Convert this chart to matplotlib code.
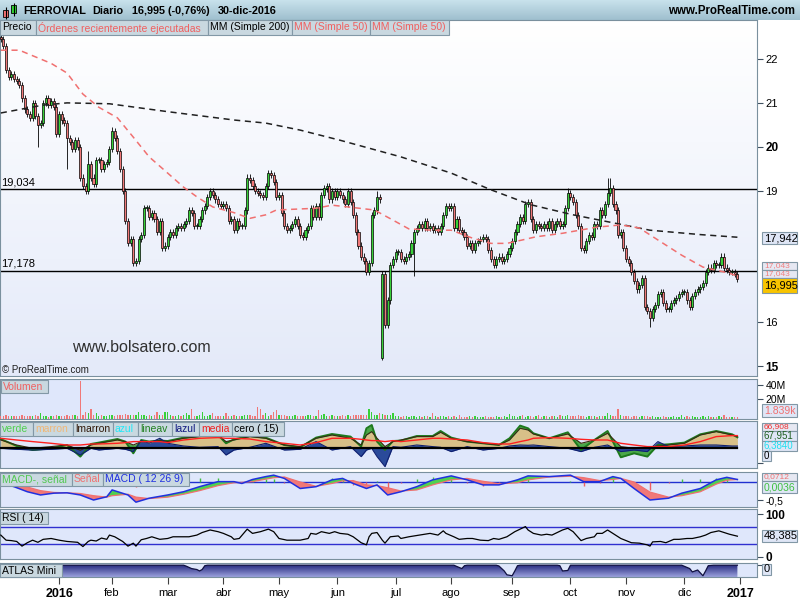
import numpy as np
import matplotlib.pyplot as plt
from matplotlib.patches import Rectangle
from matplotlib.colors import LinearSegmentedColormap

plt.rcParams['font.family'] = ['Liberation Sans', 'DejaVu Sans']

W, H = 800, 600
DIA0 = -22          # primer dia visible (dic-2015), 0 = 4-ene-2016

# --- cierres diarios ---
c_dic15 = [22.45, 22.3, 21.75, 21.6, 21.65, 21.55, 21.5, 21.4, 21.1, 20.85, 20.75,
           20.65, 21.0, 20.7, 20.5, 20.55, 21.0, 21.1, 20.95, 21.05, 20.9, 20.3]
c_ene = [20.75, 20.6, 20.55, 20.2, 20.1, 19.95, 20.15, 20.0, 19.3, 19.1, 19.0, 19.6,
         19.3, 19.15, 19.7, 19.7, 19.5, 19.6, 19.65, 19.95]
c_feb = [20.35, 20.2, 19.9, 19.5, 19.0, 18.3, 17.8, 17.9, 17.35, 17.4, 17.9, 18.0,
         18.6, 18.6, 18.4, 18.5, 18.35, 18.05, 18.3, 17.7, 17.75]
c_mar = [17.95, 18.05, 18.0, 18.15, 18.2, 18.15, 18.25, 18.3, 18.55, 18.5, 18.2, 18.2,
         18.35, 18.55, 18.65, 18.85, 19.0, 18.9, 18.8, 18.7, 18.65]
c_abr = [18.7, 18.6, 18.3, 18.35, 18.1, 18.3, 18.2, 18.2, 18.55, 19.3, 19.25, 19.1,
         19.0, 18.95, 18.9, 18.85, 19.1, 19.4, 19.35, 19.2, 18.85]
c_may = [18.9, 18.5, 18.2, 18.1, 18.15, 18.25, 18.35, 18.2, 18.0, 17.95, 18.1, 18.2,
         18.6, 18.4, 18.65, 18.4, 18.9, 19.05, 19.1, 18.8, 19.0, 18.85]
c_jun = [19.0, 18.9, 18.8, 18.7, 19.0, 18.75, 18.45, 18.05, 17.75, 17.5, 17.4, 17.15,
         17.35, 18.45, 18.55, 18.85, 18.8, 17.1, 15.95, 16.5, 17.3, 17.45]
c_jul = [17.6, 17.6, 17.45, 17.4, 17.5, 17.55, 17.8, 18.05, 18.15, 18.25, 18.15, 18.3,
         18.15, 18.2, 18.1, 18.15, 18.05, 18.2, 18.45, 18.65, 18.6]
c_ago = [18.65, 18.15, 18.35, 18.1, 18.05, 17.95, 17.75, 17.8, 17.65, 17.8, 17.85, 17.9,
         17.95, 17.9, 17.65, 17.45, 17.3, 17.45, 17.5, 17.4, 17.45, 17.55, 17.7]
c_sep = [17.85, 18.05, 18.25, 18.4, 18.3, 18.7, 18.75, 18.35, 18.1, 18.25, 18.2, 18.15,
         18.25, 18.15, 18.3, 18.1, 18.25, 18.3, 18.2, 18.25, 18.6, 18.95]
c_oct = [18.85, 18.75, 18.45, 18.2, 17.7, 17.65, 17.85, 18.0, 17.95, 18.25, 18.2, 18.55,
         18.45, 18.7, 18.95, 19.05, 18.7, 18.55, 18.0, 18.05, 17.7]
c_nov = [17.45, 17.35, 17.15, 16.95, 16.75, 16.85, 17.0, 16.35, 16.25, 16.1, 16.3, 16.4,
         16.65, 16.7, 16.45, 16.3, 16.3, 16.45, 16.5, 16.55, 16.65, 16.7]
c_dic = [16.7, 16.5, 16.35, 16.6, 16.7, 16.75, 16.8, 16.9, 17.15, 17.25, 17.2, 17.35,
         17.3, 17.3, 17.5, 17.25, 17.2, 17.15, 17.15, 17.1, 16.995]

apertura_gap = {122: 15.2}
maximos = {11: 19.9, 20: 20.45, 120: 19.0, 192: 19.06, 207: 19.3, 208: 19.3}
minimos = {-8: 20.0, 3: 19.5, 122: 15.15, 134: 17.05, 223: 15.9}

# --- volumen (millones) ---
v_dic15 = [4, 4.5, 5, 4, 3.5, 4, 3.5, 4, 5, 4.5, 4, 3.5, 4, 5, 4, 8, 3.5, 4, 3, 3.5, 4, 6]
v_ene = [4, 4.5, 4, 5, 4.5, 6, 5, 4.5, 52, 6, 10, 8, 14, 5, 8, 4.5, 5, 4, 4.5, 5]
v_feb = [5, 4.5, 5, 6, 5.5, 7, 6, 5, 6, 5, 10, 5, 6, 4.5, 5, 4, 5, 10, 5, 6, 10]
v_mar = [9, 5, 4, 4.5, 5, 4, 5, 8, 5, 14, 4.5, 4, 5, 10, 4.5, 4, 5, 8, 4, 3.5, 4]
v_abr = [4, 8, 4.5, 4, 5, 4, 4.5, 4, 5, 6, 5, 4.5, 4, 17, 14, 5, 8, 4.5, 5, 10, 12]
v_may = [5, 6, 5, 4.5, 4, 4.5, 5, 4, 4.5, 4, 4.5, 5, 6, 4.5, 4, 13, 5, 7, 4.5, 4, 5, 4.5]
v_jun = [4.5, 4, 5, 4.5, 5, 4, 5, 6, 5.5, 5, 5, 6, 14, 10, 5, 5, 8, 7, 6, 5, 5, 8]
v_jul = [4, 3.5, 3, 3.5, 4, 3, 3.5, 4, 3, 3.5, 3, 4, 3.5, 3, 8, 3.5, 3, 4, 3.5, 3, 4]
v_ago = [3, 3.5, 3, 6, 3, 2.5, 3, 3.5, 3, 4, 3, 2.5, 3, 3.5, 3, 2.5, 3, 3.5, 3, 3, 4, 3, 7]
v_sep = [3.5, 4, 3, 3.5, 5, 3, 3.5, 4, 3, 3.5, 6, 3, 3.5, 4, 3, 3.5, 4, 3, 5, 3.5, 4, 5]
v_oct = [4, 3.5, 4, 5, 4.5, 3.5, 3, 3.5, 4, 3.5, 3, 4, 3.5, 4, 8, 5, 4.5, 4, 14, 5, 4]
v_nov = [4, 3.5, 3, 4, 3.5, 3, 4, 4.5, 3.5, 3, 3.5, 3, 2.5, 3, 3.5, 3, 2.5, 3, 3.5, 3, 3, 6]
v_dic = [3, 3.5, 3, 4, 3, 2.5, 3, 3.5, 3, 4, 3, 2.5, 3, 3.5, 3, 6, 3, 2.5, 3, 3, 2.5]

# --- medias moviles ---
mm200_dia = [-22, -6, 3, 19, 41, 66, 78, 91, 106, 129, 148, 163, 178, 194, 204, 223, 242, 256]
mm200 = [20.77, 20.95, 21.0, 20.98, 20.8, 20.61, 20.54, 20.38, 20.15, 19.77, 19.4, 19.02,
         18.68, 18.45, 18.33, 18.1, 18.0, 17.94]
mm50_dia = [-22, -15, -3, 3, 9, 15, 22, 28, 34, 41, 47, 52, 58, 66, 72, 78, 82, 97, 103, 109,
            119, 126, 132, 141, 148, 156, 163, 169, 175, 180, 190, 203, 212, 219, 228, 235,
            243, 253, 256]
mm50 = [22.2, 22.2, 21.9, 21.68, 21.2, 20.9, 20.66, 20.22, 19.77, 19.4, 19.08, 18.86, 18.63,
        18.5, 18.37, 18.45, 18.56, 18.6, 18.67, 18.63, 18.56, 18.33, 18.13, 18.1, 18.1, 17.92,
        17.8, 17.8, 17.88, 17.95, 18.03, 18.17, 18.22, 18.15, 17.8, 17.53, 17.26, 17.12, 17.05]

# --- indicador verde/marron/lazul/media ---
ind_dia = [-22, -16, -10, -3, 3, 8, 12, 15, 22, 25, 28, 31, 34, 38, 41, 47, 53, 60, 63, 66,
           72, 78, 85, 91, 97, 103, 110, 114, 116, 118, 120, 123, 126, 129, 135, 141, 144,
           148, 154, 160, 166, 170, 174, 177, 179, 185, 192, 197, 202, 207, 212, 217, 222,
           226, 230, 236, 242, 248, 254, 256]
marron = [8.3, 3.3, 0, 1.7, 3.3, -2, 3.3, 5, 8.3, 6.7, 3.3, 6.7, 6.7, 7.7, 6.7, 10, 11.7,
          13.3, 6.7, 8.3, 11.7, 10, 3.3, 1.7, 10, 13.3, 10, 3.3, 13.3, 16.7, 10, 1.7, 6.7,
          8.3, 11.7, 11.7, 16, 10, 6.7, 5, 3.3, 8.3, 20, 18.3, 14.3, 10, 14.3, 5, 8.3, 15,
          1.7, 0, 1, 2.3, 3.3, 5, 13.3, 16.7, 13.3, 11.7]
verde = [9.3, 2.3, -1.7, 0, 3.3, -8.3, 4.3, 5.7, 9.3, 6.7, -5, 8.3, 6.7, 7.7, 7.3, 10.7,
         12.3, 13.3, 5, 9, 12.3, 10.7, 3.3, 1, 10.7, 14.3, 11.7, 1.7, 20, 23.3, 6.7, -1.7,
         7.3, 7.7, 12.3, 12.3, 17.3, 10.7, 6.7, 5, 3.3, 10, 22.7, 20, 15, 10, 16, -1.7, 8.3,
         17.3, -9, -5, -8.3, 3.3, 4, 5.7, 14, 17.3, 14, 11]
lazul = [0, -1, -1.7, -1, 0, -6.7, 0, -1.7, 0, -1, -3.3, 7.7, 5, 10, 5, 2.3, 1, 1.7, -6.7,
         -1.7, 1, 5, -1.7, -1, 6.7, -1.7, 1.7, -8.3, -1.7, 0, -8.3, -18.3, 1.7, 1, 3.3, 1.7,
         1, -3.3, 1.7, -1.7, 0, 2.3, 3.3, 3, 3.3, 1.7, 0, -3.3, 1, 3.3, -3.3, -1.7, -3.3,
         6.7, 1.7, 2.3, 3.3, 3.3, 2.3, 2.3]
media = [10, 8.3, 6.7, 5, 3.3, 3.3, 4.3, 4.3, 5, 5.7, 6.7, 6.7, 6.7, 6.7, 5.7, 8.3, 10, 10.7,
         10, 10, 9.3, 6.7, 5, 3.3, 5.7, 10, 10, 9, 8.3, 7.7, 7.7, 6.7, 7.7, 6.7, 8.3, 10, 10,
         9.3, 8.3, 5.7, 4.3, 4.3, 6.7, 8.3, 10, 10.7, 10, 9, 8.3, 8.3, 5, 3.3, 1.7, 1.7, 1.7,
         3.3, 6.7, 11.7, 12.7, 12.7]

# --- MACD ---
macd_dia = [-22, -17, -12, -7, -2, 3, 8, 13, 18, 20, 26, 29, 34, 41, 47, 53, 60, 66, 69, 73,
            78, 81, 85, 91, 97, 103, 107, 111, 116, 120, 124, 129, 135, 141, 148, 154, 160,
            166, 173, 177, 185, 193, 198, 204, 209, 212, 217, 223, 230, 235, 242, 248, 252, 256]
macd = [-0.02, -0.13, -0.27, -0.36, -0.31, -0.30, -0.36, -0.50, -0.41, -0.22,
        -0.36, -0.56, -0.45, -0.36, -0.27, -0.13, 0.01, 0.01, -0.04, 0.07,
        0.15, 0.19, 0.10, -0.18, -0.13, 0.06, 0.10, -0.04, -0.18, -0.08,
        -0.36, -0.27, -0.13, 0.06, 0.17, 0.06, -0.08, -0.08, 0.06, 0.17,
        0.15, 0.19, 0.01, 0.01, 0.15, 0.10, -0.18, -0.50, -0.45, -0.31,
        -0.18, 0.06, 0.13, 0.07]
senal = [0.02, -0.05, -0.14, -0.24, -0.29, -0.30, -0.32, -0.38, -0.42, -0.38,
         -0.34, -0.42, -0.46, -0.42, -0.34, -0.24, -0.10, -0.02, -0.01, 0.01,
         0.08, 0.12, 0.14, 0.0, -0.12, -0.04, 0.03, 0.04, -0.08, -0.10,
         -0.16, -0.25, -0.22, -0.08, 0.06, 0.10, 0.02, -0.05, -0.02, 0.06,
         0.14, 0.16, 0.12, 0.04, 0.07, 0.10, 0.0, -0.28, -0.42, -0.38,
         -0.27, -0.06, 0.05, 0.07]

# --- RSI (14) ---
rsi_dia = [-22, -20, -18, -16, -14, -12, -10, -8, -6, -3, 0, 3, 7, 9, 11, 12, 14, 16, 18, 19,
           21, 24, 26, 28, 29, 31, 33, 35, 38, 41, 43, 46, 49, 52, 54, 57, 60, 62, 65, 66,
           68, 71, 73, 76, 79, 81, 83, 86, 88, 91, 94, 95, 97, 99, 102, 104, 106, 109, 111,
           114, 116, 117, 118, 120, 122, 123, 125, 128, 129, 132, 136, 140, 143, 145, 146,
           149, 151, 154, 156, 159, 162, 164, 166, 169, 172, 174, 176, 177, 179, 182, 184,
           186, 188, 190, 192, 194, 197, 199, 202, 203, 205, 207, 209, 212, 214, 216, 219,
           222, 223, 224, 227, 229, 232, 234, 237, 239, 242, 244, 246, 249, 251, 253, 256]
rsi = [51, 39, 38, 36, 25, 33, 39, 34, 41, 43, 39, 36, 34, 24, 36, 39, 37, 44, 41, 51,
       47, 36, 25, 32, 25, 40, 43, 47, 41, 43, 47, 47, 47, 51, 57, 63, 59, 55, 47, 41,
       43, 65, 55, 59, 65, 59, 43, 39, 39, 39, 43, 55, 53, 59, 55, 59, 55, 53, 47, 33,
       28, 47, 55, 57, 39, 32, 47, 49, 43, 47, 51, 55, 51, 61, 55, 47, 41, 43, 43, 39,
       38, 43, 41, 47, 59, 65, 71, 63, 55, 51, 53, 51, 57, 63, 67, 59, 38, 43, 47, 55,
       55, 63, 55, 43, 38, 33, 32, 28, 25, 35, 36, 33, 41, 41, 43, 43, 47, 51, 57, 61,
       57, 53, 48.4]

# --- ATLAS Mini ---
atlas_dia = [-22, 47, 48, 50, 52, 53, 54, 55, 56, 149, 150, 152, 153, 154, 165, 166, 168,
             169, 171, 172, 173, 174, 188, 189, 190, 192, 193, 234, 235, 238, 239, 241, 243,
             244, 245, 247, 256]
atlas = [0, 0, -1, -3.5, -4.5, -6, -4.5, -0.5, 0, 0, -1.2, -3.5, -0.5, 0, 0, -0.8, -6, -10,
         -11, -6, -0.5, 0, 0, -0.5, -6, -5.5, 0, 0, 0, -3.5, -7, -5, -11, -6, -0.5, 0, 0]

inicio_mes = [0, 20, 41, 62, 83, 105, 127, 148, 171, 193, 214, 236, 257]
meses = ['2016', 'feb', 'mar', 'abr', 'may', 'jun', 'jul', 'ago', 'sep', 'oct', 'nov',
         'dic', '2017']

cierres = np.array(c_dic15 + c_ene + c_feb + c_mar + c_abr + c_may + c_jun + c_jul +
                   c_ago + c_sep + c_oct + c_nov + c_dic)
volumen = np.array(v_dic15 + v_ene + v_feb + v_mar + v_abr + v_may + v_jun + v_jul +
                   v_ago + v_sep + v_oct + v_nov + v_dic)
dias = np.arange(DIA0, DIA0 + len(cierres))

X0, X1 = -22.3, 263.4
VERDE_V, ROJO_V = '#38d038', '#f07878'
BORDE = '#7a909e'

fig = plt.figure(figsize=(8, 6), dpi=100)
fig.patch.set_facecolor('white')


def px_ax(x0, y0, x1, y1):
    return fig.add_axes([x0 / W, 1 - y1 / H, (x1 - x0) / W, (y1 - y0) / H])


def gradiente(ax, c_arriba, c_abajo):
    cmap = LinearSegmentedColormap.from_list('g', [c_abajo, c_arriba])
    ax.imshow(np.linspace(0, 1, 64).reshape(-1, 1), extent=[0, 1, 0, 1],
              transform=ax.transAxes, origin='lower', cmap=cmap, aspect='auto', zorder=0)


def caja(x0, y0, x1, y1, texto, color, fc='#c9d8e0', size=7.5, weight='normal', ha='left'):
    fig.patches.append(Rectangle((x0 / W, 1 - y1 / H), (x1 - x0) / W, (y1 - y0) / H,
                                 transform=fig.transFigure, facecolor=fc, edgecolor='#8298a6',
                                 lw=0.8, zorder=5))
    tx = (x0 + 2) / W if ha == 'left' else (x0 + x1) / 2 / W
    fig.text(tx, 1 - (y0 + y1) / 2 / H, texto, color=color, fontsize=size,
             fontweight=weight, ha=ha, va='center', zorder=6)


def panel(ax, ylim):
    ax.set_xlim(X0, X1)
    ax.set_ylim(*ylim)
    for s in ax.spines.values():
        s.set_color(BORDE)
    ax.yaxis.tick_right()
    ax.tick_params(axis='y', length=4, color='#405060', labelsize=7.5, pad=2)
    ax.tick_params(axis='x', bottom=False, labelbottom=False)


# ---------- barra de titulo ----------
axt = px_ax(0, 0, 800, 20)
gradiente(axt, '#c8e2ec', '#9fbfce')
axt.set_xlim(0, 800)
axt.set_ylim(20, 0)
axt.axis('off')
axt.vlines([5.5, 13.5], [7, 3], [19, 16], color='black', lw=0.8)
axt.add_patch(Rectangle((3, 10), 5, 7, facecolor='#f07070', edgecolor='black', lw=0.6))
axt.add_patch(Rectangle((11, 5), 5, 8, facecolor='#30d030', edgecolor='black', lw=0.6))
fig.text(23 / W, 1 - 11 / H, 'FERROVIAL', fontsize=7.8, fontweight='bold', va='center')
fig.text(92 / W, 1 - 11 / H, 'Diario', fontsize=7.8, fontweight='bold', va='center')
fig.text(132 / W, 1 - 11 / H, '16,995 (-0,76%)', fontsize=7.8, fontweight='bold', va='center')
fig.text(218 / W, 1 - 11 / H, '30-dic-2016', fontsize=7.8, fontweight='bold', va='center')
fig.text(795 / W, 1 - 11 / H, 'www.ProRealTime.com', fontsize=8.3, fontweight='bold',
         va='center', ha='right')

# ---------- precio ----------
ax = px_ax(0, 20, 757, 376)
gradiente(ax, '#ffffff', '#e4eaf9')
panel(ax, (14.779, 22.888))

o = np.r_[cierres[0] + 0.05, cierres[:-1]]
for d, v in apertura_gap.items():
    o[d - DIA0] = v
arriba = np.maximum(o, cierres)
abajo = np.minimum(o, cierres)
hi = arriba + 0.07
lo = abajo - 0.07
for d, v in maximos.items():
    hi[d - DIA0] = v
for d, v in minimos.items():
    lo[d - DIA0] = v
sube = cierres >= o
ax.vlines(dias, lo, hi, color='black', lw=0.6, zorder=3)
ax.bar(dias, np.maximum(arriba - abajo, 0.025), bottom=abajo, width=0.78,
       color=np.where(sube, VERDE_V, ROJO_V), edgecolor='black', linewidth=0.5, zorder=4)

ax.plot(mm200_dia, mm200, color='#202020', lw=1.1, ls=(0, (4, 3)), zorder=5)
ax.plot(mm50_dia, mm50, color='#f07070', lw=1.1, ls=(0, (4, 3)), zorder=5)
ax.axhline(19.034, color='black', lw=1.0, zorder=2)
ax.axhline(17.178, color='black', lw=1.0, zorder=2)
ax.text(X0 + 0.5, 19.034 + 0.04, '19,034', fontsize=8, va='bottom', zorder=6)
ax.text(X0 + 0.5, 17.178 + 0.04, '17,178', fontsize=8, va='bottom', zorder=6)

ax.set_yticks([15, 16, 19, 20, 21, 22])
ax.set_yticklabels(['15', '16', '19', '20', '21', '22'])
for t in ax.get_yticklabels():
    if t.get_text() in ('15', '20'):
        t.set_fontweight('bold')
        t.set_fontsize(8.5)
    else:
        t.set_fontsize(8)

fig.text(72 / W, 1 - 348 / H, 'www.bolsatero.com', fontsize=11.5, color='#303030', va='center')
fig.text(2 / W, 1 - 370 / H, '© ProRealTime.com', fontsize=7, color='#202020', va='center')

caja(0, 20, 36, 35, 'Precio', 'black')
caja(36, 20, 208, 35, 'Órdenes recientemente ejecutadas', '#f06060')
caja(208, 20, 292, 35, 'MM (Simple 200)', 'black')
caja(292, 20, 370, 35, 'MM (Simple 50)', '#f06060')
caja(370, 20, 449, 35, 'MM (Simple 50)', '#f06060')

caja(762, 232, 797, 244, '17,942', 'black', fc='#dfe6f6', size=8)
caja(762, 262, 797, 270, '17,043', '#f08080', fc='#e6e8f2', size=6)
caja(762, 270, 797, 278, '17,043', '#f08080', fc='#e6e8f2', size=6)
caja(762, 278, 797, 293, '16,995', 'black', fc='#f8c400', size=8)

# ---------- volumen ----------
axvol = px_ax(0, 379, 757, 419)
axvol.set_facecolor('#dfe7fb')
panel(axvol, (-7, 48))
axvol.bar(dias, volumen, bottom=-7, width=0.5, color=np.where(sube, VERDE_V, ROJO_V), zorder=3)
axvol.set_yticks([20, 40])
axvol.set_yticklabels(['20M', '40M'])
caja(1, 380, 48, 393, 'Volumen', '#f06060')
caja(762, 404, 797, 417, '1.839k', '#f07070', fc='#dfe6f6', size=7.5)

# ---------- verde / marron ----------
axi = px_ax(0, 421, 757, 468)
axi.set_facecolor('#dfe7fb')
panel(axi, (-19.7, 27.3))
axi.fill_between(ind_dia, 0, marron, color='#d8c088', lw=0, zorder=2)
axi.fill_between(ind_dia, marron, verde, color='#4aa848', lw=0, zorder=3)
axi.fill_between(ind_dia, 0, lazul, color='#2a4a9a', lw=0, zorder=4)
axi.plot(ind_dia, verde, color='#1e7a1e', lw=1.4, zorder=5)
axi.plot(ind_dia, marron, color='#3a2a10', lw=0.8, zorder=5)
axi.plot(ind_dia, lazul, color='#102070', lw=0.8, zorder=5)
axi.plot(ind_dia, media, color='#ff2020', lw=1.0, zorder=6)
axi.plot([ind_dia[0], ind_dia[-1]], [0, 0], color='black', lw=1.6, zorder=6)
axi.set_yticks([-15])
axi.set_yticklabels([''])
for x0, x1, t, c in [(0, 33, 'verde', '#50d050'), (33, 73, 'marron', '#f0b878'),
                     (73, 113, 'lmarron', '#301808'), (113, 138, 'azul', '#20e8f8'),
                     (138, 172, 'lineav', '#208020'), (172, 199, 'lazul', '#101880'),
                     (199, 232, 'media', '#f02020'), (232, 284, 'cero ( 15)', 'black')]:
    caja(x0, 422, x1, 436, t, c)
caja(762, 423, 797, 431, '66,908', '#f03030', fc='#e6e8f2', size=6)
caja(762, 431, 797, 441, '67,951', '#206020', fc='#dfe6f6', size=7)
caja(762, 441, 797, 451, '6,3840', '#20e0f0', fc='#dfe6f6', size=7)
caja(762, 451, 771, 461, '0', 'black', fc='#dfe6f6', size=7)

# ---------- MACD ----------
axm = px_ax(0, 472, 757, 507)
axm.set_facecolor('#dfe7fb')
panel(axm, (-0.694, 0.278))
dif = np.array(macd) - np.array(senal)
axm.vlines(macd_dia, 0, dif, color=np.where(dif >= 0, '#40c040', '#f06060'), lw=1, zorder=2)
axm.fill_between(macd_dia, macd, senal, where=dif >= 0, interpolate=True,
                 color='#50d050', lw=0, zorder=3)
axm.fill_between(macd_dia, macd, senal, where=dif < 0, interpolate=True,
                 color='#f07878', lw=0, zorder=3)
axm.plot(macd_dia, senal, color='#f07070', lw=0.9, zorder=4)
axm.plot(macd_dia, macd, color='#2030e0', lw=1.1, zorder=5)
axm.axhline(0, color='#2030d0', lw=1, zorder=1)
axm.set_yticks([-0.5])
axm.set_yticklabels(['-0,5'])
caja(0, 473, 72, 486, 'MACD-, señal', '#50c850')
caja(72, 473, 103, 486, 'Señal', '#f07070')
caja(103, 473, 189, 486, 'MACD ( 12 26 9)', '#2030e0')
caja(762, 473, 797, 481, '0,0712', '#f07070', fc='#e6e8f2', size=6)
caja(762, 481, 797, 493, '0,0036', '#40c040', fc='#dfe6f6', size=7.5)

# ---------- RSI ----------
axr = px_ax(0, 509, 757, 559)
axr.set_facecolor('#dfe7fb')
panel(axr, (-5.3, 112.4))
axr.axhline(70, color='#3030d0', lw=1, zorder=1)
axr.axhline(30, color='#3030d0', lw=1, zorder=1)
axr.plot(rsi_dia, rsi, color='black', lw=0.9, zorder=3)
axr.set_yticks([0, 100])
axr.set_yticklabels(['0', '100'], fontweight='bold', fontsize=8.5)
caja(0, 512, 48, 524, 'RSI ( 14)', 'black')
caja(762, 530, 797, 542, '48,385', 'black', fc='#dfe6f6', size=8)

# ---------- ATLAS Mini ----------
axa = px_ax(0, 563, 757, 577)
axa.set_facecolor('#dfe7fb')
panel(axa, (-12.3, 2.3))
poly = axa.fill_between(atlas_dia, -12.3, atlas, facecolor='none', lw=0)
cm = LinearSegmentedColormap.from_list('atlas', ['#9aa0dc', '#2a2e82'])
im = axa.imshow(np.linspace(0, 1, 32).reshape(-1, 1), extent=[atlas_dia[0], atlas_dia[-1], -12.3, 0],
                origin='lower', cmap=cm, aspect='auto', zorder=2)
im.set_clip_path(poly.get_paths()[0], transform=axa.transData)
axa.plot(atlas_dia, atlas, color='#101040', lw=0.9, zorder=3)
axa.set_xlim(X0, X1)
axa.set_ylim(-12.3, 2.3)
axa.set_yticks([0])
axa.set_yticklabels([''])
caja(0, 564, 62, 577, 'ATLAS Mini', 'black')
caja(762, 564, 771, 575, '0', 'black', fc='#dfe6f6', size=8)

axa.tick_params(axis='x', bottom=True, labelbottom=True, direction='out', length=5,
                color='#404040', labelsize=8, pad=3)
axa.set_xticks(inicio_mes)
axa.set_xticklabels(meses)
for t in axa.get_xticklabels():
    if t.get_text() in ('2016', '2017'):
        t.set_fontweight('bold')
        t.set_fontsize(9)

fig.savefig('out.png', dpi=100)
